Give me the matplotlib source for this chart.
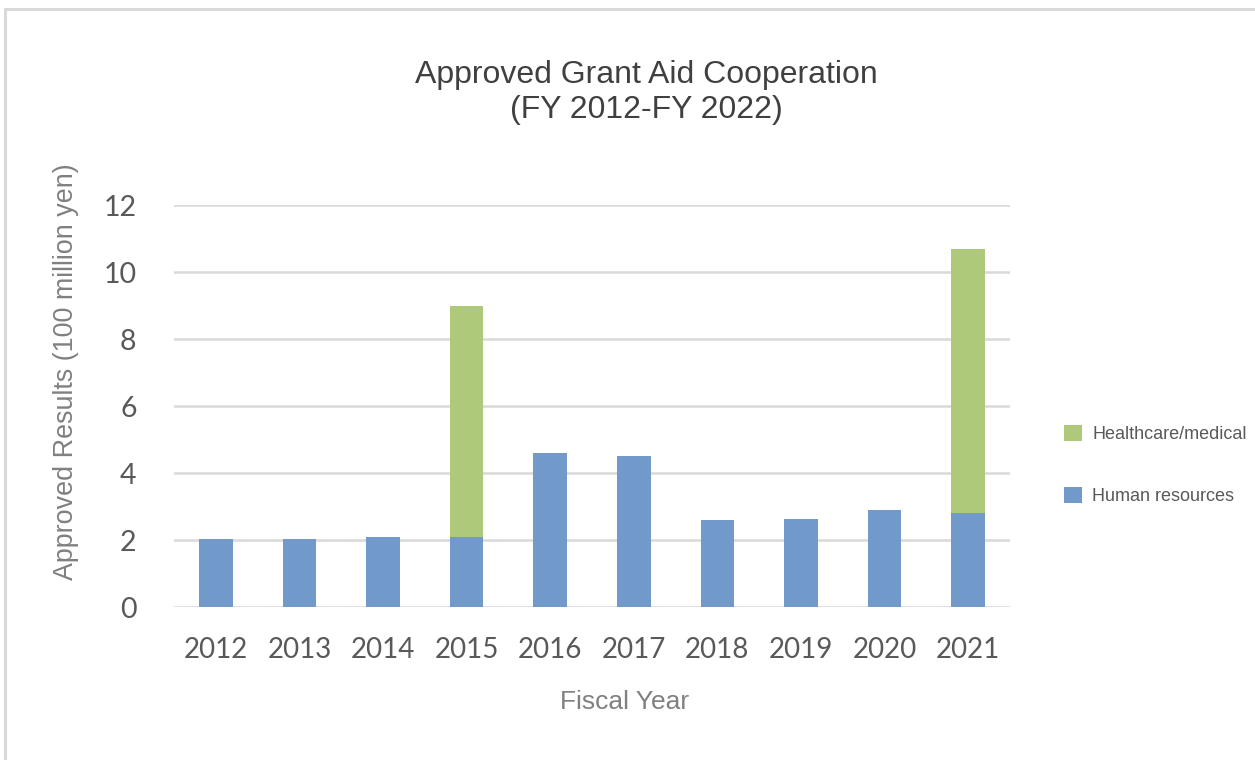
import matplotlib
matplotlib.use("Agg")
import matplotlib.pyplot as plt
from matplotlib.patches import Patch, Rectangle

# Approved grant aid by fiscal year (100 million yen)
years = ["2012", "2013", "2014", "2015", "2016", "2017", "2018", "2019", "2020", "2021"]
human_resources = [2.04, 2.04, 2.09, 2.09, 4.60, 4.50, 2.59, 2.64, 2.89, 2.81]
healthcare = [0, 0, 0, 6.90, 0, 0, 0, 0, 0, 7.89]
y_ticks = [0, 2, 4, 6, 8, 10, 12]

BLUE = "#7199CA"
GREEN = "#AEC97A"
GRID = "#D9D9D9"
TICK = "#595959"

W, H = 1255, 760
fig = plt.figure(figsize=(W / 100, H / 100), dpi=100)
fig.patch.set_facecolor("white")

# thin outer frame (top and left edges visible)
fig.patches.append(Rectangle((5 / W, -0.1), 1.2, 1.1 - 9 / H, transform=fig.transFigure,
                             fill=False, edgecolor="#D9D9D9", linewidth=2.2, zorder=0))

ax = fig.add_axes([174 / W, 1 - 607.3 / H, (1010 - 174) / W, (607.3 - 205) / H])
x = list(range(len(years)))
ax.bar(x, human_resources, width=0.4, color=BLUE, zorder=3)
ax.bar(x, healthcare, width=0.4, bottom=human_resources, color=GREEN, zorder=3)

ax.set_xlim(-0.5, len(years) - 0.5)
ax.set_ylim(0, 12)
ax.set_yticks(y_ticks)
ax.set_yticklabels([str(v) for v in y_ticks])
ax.set_xticks(x)
ax.set_xticklabels(years)
for s in ax.spines.values():
    s.set_visible(False)
ax.yaxis.grid(True, color=GRID, linewidth=1.8, zorder=0)
ax.set_axisbelow(True)
ax.tick_params(axis="both", length=0, labelcolor=TICK)
ax.tick_params(axis="x", pad=21.5, labelsize=20)
ax.tick_params(axis="y", pad=27, labelsize=20.5)
for lbl in ax.get_xticklabels() + ax.get_yticklabels():
    lbl.set_family("Lato")

fig.text(646 / W, 1 - 92.5 / H, "Approved Grant Aid Cooperation\n(FY 2012-FY 2022)",
         ha="center", va="center", fontsize=23, color="#404040",
         family="Liberation Sans", linespacing=1.25)
fig.text(66 / W, 1 - 371.5 / H, "Approved Results (100 million yen)", rotation=90,
         ha="center", va="center", fontsize=19.4, color="#808080", family="Liberation Sans")
fig.text(625 / W, 1 - 702 / H, "Fiscal Year", ha="center", va="center",
         fontsize=19, color="#808080", family="Liberation Sans")

handles = [Patch(facecolor=GREEN, label="Healthcare/medical"),
           Patch(facecolor=BLUE, label="Human resources")]
fig.legend(handles=handles, loc="center left", bbox_to_anchor=(1048 / W, 1 - 465 / H),
           frameon=False, labelcolor=TICK, labelspacing=2.4,
           handlelength=1.0, handleheight=1.0, handletextpad=0.55,
           prop={"family": "Liberation Sans", "size": 13})

fig.savefig("out.png", dpi=100)
